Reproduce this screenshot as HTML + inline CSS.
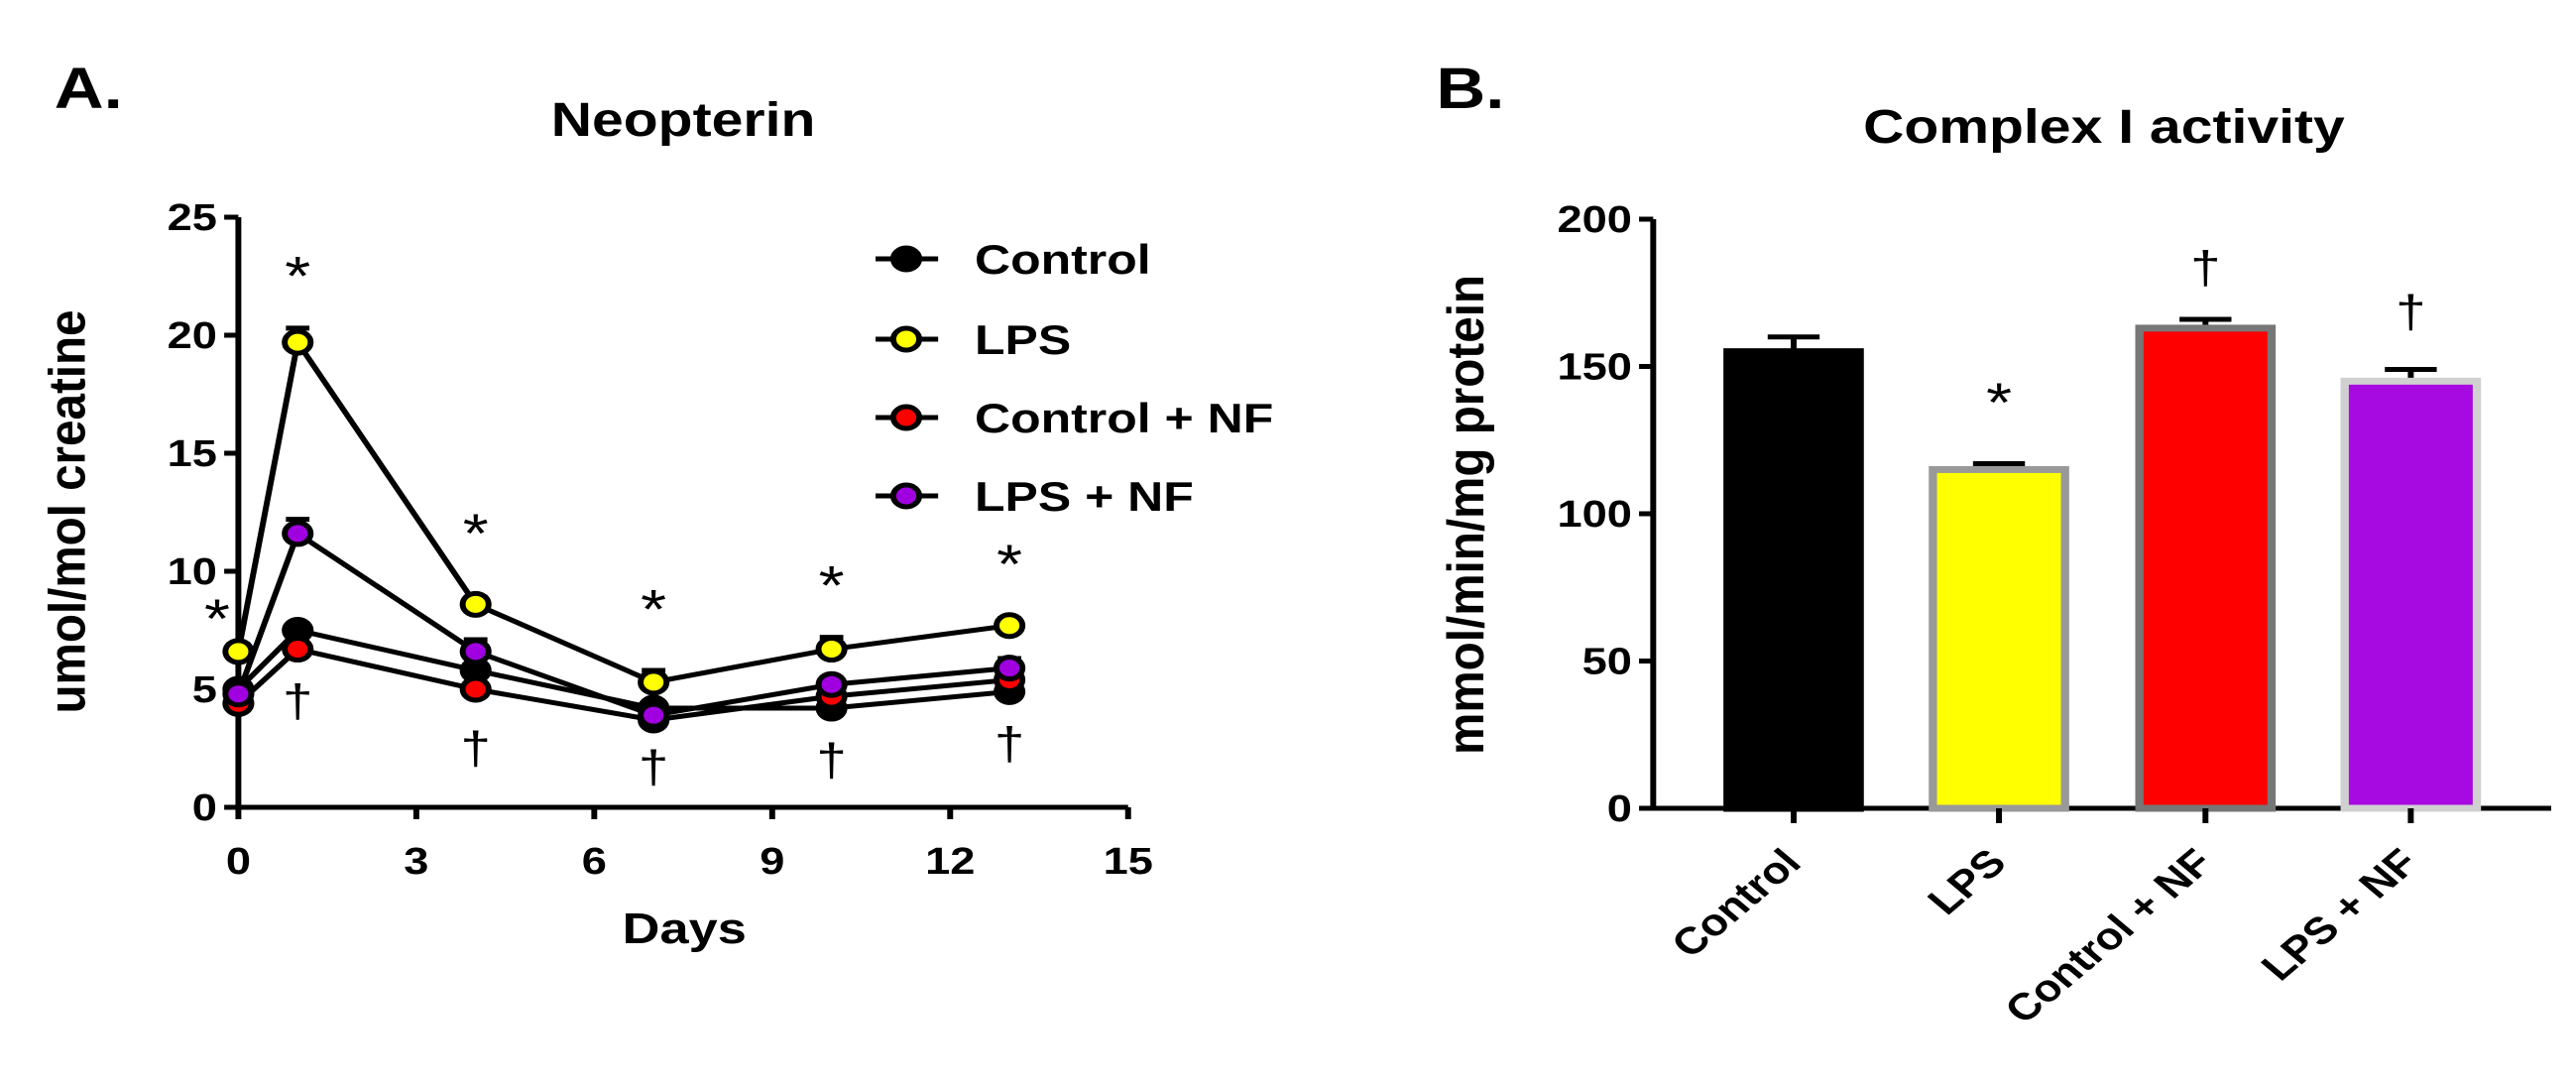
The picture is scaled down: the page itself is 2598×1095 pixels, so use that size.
<!DOCTYPE html>
<html><head><meta charset="utf-8"><style>
html,body{margin:0;padding:0;background:#fff;}
svg{display:block;font-family:"Liberation Sans",sans-serif;font-weight:bold;}
</style></head><body>
<svg id="fig" width="2598" height="1095" viewBox="0 0 2183 1095" preserveAspectRatio="none" xmlns="http://www.w3.org/2000/svg">
<rect width="2183" height="1095" fill="#fff"/>
<text x="46" y="109" font-size="58">A.</text>
<text x="579" y="137" font-size="48" text-anchor="middle">Neopterin</text>
<text transform="translate(72,516) rotate(-90)" font-size="44" text-anchor="middle" textLength="407" lengthAdjust="spacingAndGlyphs">umol/mol creatine</text>
<text x="580" y="951" font-size="44" text-anchor="middle">Days</text>
<text x="1217" y="109" font-size="58">B.</text>
<text x="1783" y="144" font-size="48" text-anchor="middle">Complex I activity</text>
<text transform="translate(1257,519) rotate(-90)" font-size="44" text-anchor="middle" textLength="484" lengthAdjust="spacingAndGlyphs">mmol/min/mg protein</text>
<g id="ga"></g>
<g id="gb"></g>
</svg>
<script>
const days = [0, 1, 4, 7, 10, 13];
const seriesNames = ["Control", "LPS", "Control + NF", "LPS + NF"];
const seriesColors = ["#000000", "#ffff00", "#ff0000", "#a000e0"];
const controlVals = [5.0, 7.5, 5.8, 4.2, 4.2, 4.9];
const lpsVals = [6.6, 19.7, 8.6, 5.3, 6.7, 7.7];
const controlNfVals = [4.4, 6.7, 5.0, 3.7, 4.7, 5.4];
const lpsNfVals = [4.8, 11.6, 6.6, 3.9, 5.2, 5.9];
const lpsErr = [0.3, 0.6, 0.3, 0.5, 0.5, 0.3];
const lpsNfErr = [0.3, 0.6, 0.5, 0.3, 0.3, 0.4];
const xTicksA = [0, 3, 6, 9, 12, 15];
const yTicksA = [0, 5, 10, 15, 20, 25];
const starDaysA = [0, 1, 4, 7, 10, 13];
const starValsA = [8.2, 22.7, 11.8, 8.6, 9.6, 10.5];
const daggerDaysA = [1, 4, 7, 10, 13];
const daggerValsA = [4.6, 2.6, 1.8, 2.1, 2.8];

const categoriesB = ["Control", "LPS", "Control + NF", "LPS + NF"];
const barVals = [155, 115, 163, 145];
const barErrTop = [160, 117, 166, 149];
const yTicksB = [0, 50, 100, 150, 200];
const annotB = ["", "*", "†", "†"];
const annotValsB = [0, 138, 185, 170];

const NS = "http://www.w3.org/2000/svg";
function mk(parent, tag, attrs, text) {
  const e = document.createElementNS(NS, tag);
  for (const k in attrs) e.setAttribute(k, attrs[k]);
  if (text !== undefined) e.textContent = text;
  parent.appendChild(e);
  return e;
}
// Panel A
const ga = document.getElementById('ga');
const xA = d => 202 + d * (956 - 202) / 15;
const yA = v => 814 - v * (814 - 219) / 25;
let ax = mk(ga, 'path', {d: `M202,${yA(25)} L202,814 L956,814`, stroke: '#000', 'stroke-width': 5, fill: 'none'});


yTicksA.forEach(t => {
  const l = mk(ga, 'line', {x1: 190, x2: 202, y1: yA(t), y2: yA(t), stroke: '#000', 'stroke-width': 5});
  
  
  const tx = mk(ga, 'text', {x: 184, y: yA(t) + 13, 'font-size': 38, 'text-anchor': 'end'}, t);
  
  
});
xTicksA.forEach(t => {
  const l = mk(ga, 'line', {x1: xA(t), x2: xA(t), y1: 814, y2: 826, stroke: '#000', 'stroke-width': 5});
  
  
  const tx = mk(ga, 'text', {x: xA(t), y: 881, 'font-size': 38, 'text-anchor': 'middle'}, t);
  
  
});
const allSeries = [controlVals, lpsVals, controlNfVals, lpsNfVals];
const allErr = [null, lpsErr, null, lpsNfErr];
const drawOrder = [0, 2, 3, 1];
drawOrder.forEach(si => {
  const vals = allSeries[si];
  const pl = mk(ga, 'polyline', {points: vals.map((v, i) => xA(days[i]) + ',' + yA(v)).join(' '), fill: 'none', stroke: '#000', 'stroke-width': 5});
  
  
});
drawOrder.forEach(si => {
  const vals = allSeries[si];
  vals.forEach((v, i) => {
    if (allErr[si]) {
      const e = allErr[si][i];
      const eb = mk(ga, 'path', {d: `M${xA(days[i])},${yA(v)} L${xA(days[i])},${yA(v + e)} M${xA(days[i]) - 10},${yA(v + e)} L${xA(days[i]) + 10},${yA(v + e)}`, stroke: '#000', 'stroke-width': 5, fill: 'none'});
      
      
    }
    const c = mk(ga, 'circle', {cx: xA(days[i]), cy: yA(v), r: 11, fill: seriesColors[si], stroke: '#000', 'stroke-width': 5});
    
    
  });
});
starDaysA.forEach((d, i) => {
  const t = mk(ga, 'text', {x: xA(d) + (d === 0 ? -18 : 0), y: yA(starValsA[i]) + 24, 'font-size': 56, 'font-weight': 'normal', 'text-anchor': 'middle'}, '*');
  
  
});
daggerDaysA.forEach((d, i) => {
  const t = mk(ga, 'text', {x: xA(d), y: yA(daggerValsA[i]) + 18, 'font-size': 46, 'font-weight': 'normal', 'text-anchor': 'middle'}, '†');
  
  
});
const legY = [261, 342, 421, 500];
seriesNames.forEach((n, i) => {
  const g = mk(ga, 'g', {});
  
  
  mk(g, 'line', {x1: 742, x2: 795, y1: legY[i], y2: legY[i], stroke: '#000', 'stroke-width': 5});
  mk(g, 'circle', {cx: 768, cy: legY[i], r: 11, fill: seriesColors[i], stroke: '#000', 'stroke-width': 5});
  mk(g, 'text', {x: 826, y: legY[i] + 15, 'font-size': 42}, n);
});
// Panel B
const gb = document.getElementById('gb');
const catX = [1520, 1694, 1869, 2043];
const yB = v => 815 - v * (815 - 221) / 200;
const barFill = ["#000000", "#ffff00", "#ff0000", "#a60ae0"];
const barStroke = ["#000000", "#999999", "#777777", "#d0d0d0"];
let axb = mk(gb, 'path', {d: `M1401,${yB(200)} L1401,815 L2162,815`, stroke: '#000', 'stroke-width': 5, fill: 'none'});


yTicksB.forEach(t => {
  const l = mk(gb, 'line', {x1: 1389, x2: 1401, y1: yB(t), y2: yB(t), stroke: '#000', 'stroke-width': 5});
  
  
  const tx = mk(gb, 'text', {x: 1383, y: yB(t) + 13, 'font-size': 38, 'text-anchor': 'end'}, t);
  
  
});
categoriesB.forEach((c, i) => {
  const x = catX[i], w = 112;
  const eb = mk(gb, 'path', {d: `M${x},${yB(barVals[i])} L${x},${yB(barErrTop[i])} M${x - 22},${yB(barErrTop[i])} L${x + 22},${yB(barErrTop[i])}`, stroke: '#000', 'stroke-width': 5, fill: 'none'});
  
  
  const r = mk(gb, 'rect', {x: x - w / 2, y: yB(barVals[i]), width: w, height: 815 - yB(barVals[i]), fill: barFill[i], stroke: barStroke[i], 'stroke-width': 7});
  
  
  const l = mk(gb, 'line', {x1: x, x2: x, y1: 815, y2: 830, stroke: '#000', 'stroke-width': 5});
  
  
  const tx = mk(gb, 'text', {transform: `translate(${x + 8},872) rotate(-45)`, 'font-size': 38, 'text-anchor': 'end'}, c);
  
  
  if (annotB[i]) {
    const a = mk(gb, 'text', {x: x, y: yB(annotValsB[i]) + 20, 'font-size': annotB[i] === '*' ? 56 : 46, 'font-weight': 'normal', 'text-anchor': 'middle'}, annotB[i]);
    
    
  }
});
</script>
</body></html>
